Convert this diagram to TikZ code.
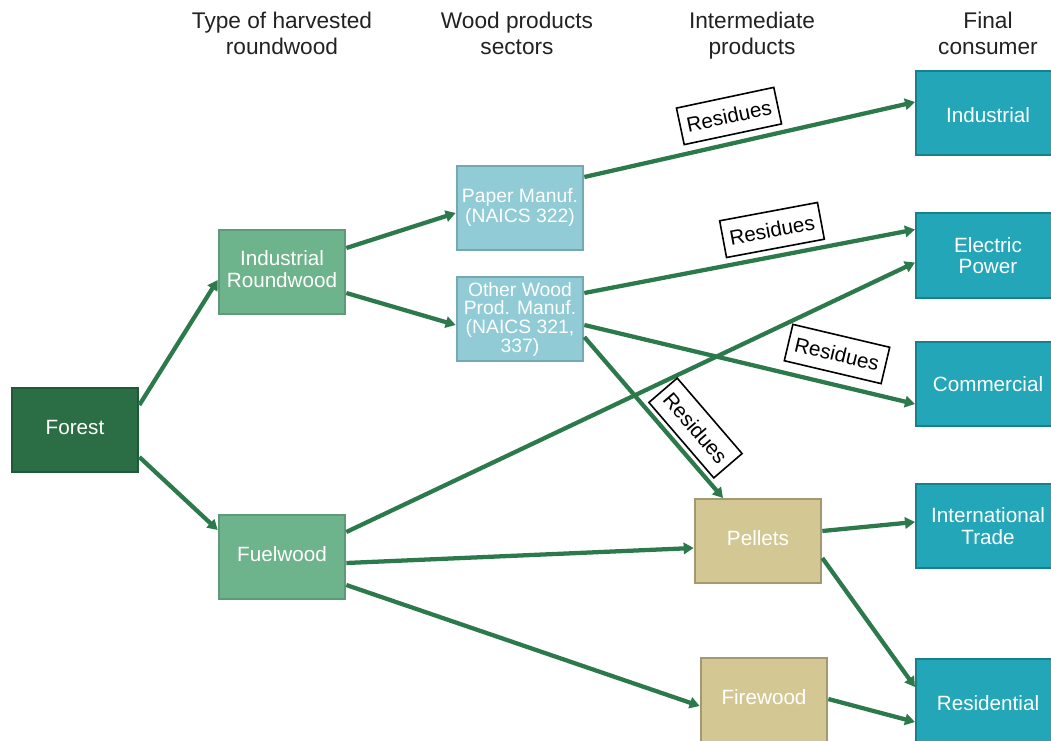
\documentclass[tikz,border=0pt]{standalone}
\usepackage{fontspec}
\setmainfont{Liberation Sans}
\usetikzlibrary{calc,arrows.meta}
\definecolor{forestfill}{HTML}{2B6E46}
\definecolor{forestdraw}{HTML}{1E5A36}
\definecolor{lgfill}{HTML}{6DB38B}
\definecolor{lgdraw}{HTML}{5E9979}
\definecolor{lbfill}{HTML}{90CBD6}
\definecolor{lbdraw}{HTML}{74A8B2}
\definecolor{tanfill}{HTML}{D3C794}
\definecolor{tandraw}{HTML}{A39870}
\definecolor{tealfill}{HTML}{22A6B8}
\definecolor{tealdraw}{HTML}{17808F}
\definecolor{arrowc}{HTML}{2C7A4C}
\definecolor{headc}{HTML}{222222}
\newcommand\lowr{\rule[-4.5pt]{0pt}{0pt}}
\tikzset{
  box/.style={rectangle, line width=1.5pt, minimum width=95pt, minimum height=63pt,
    inner sep=0pt, align=center, text=white, font=\fontsize{15.5}{16}\selectfont},
  forestbox/.style={box, fill=forestfill, draw=forestdraw},
  roundbox/.style={box, fill=lgfill, draw=lgdraw},
  sectorbox/.style={box, fill=lbfill, draw=lbdraw, font=\fontsize{14.5}{15}\selectfont},
  interbox/.style={box, fill=tanfill, draw=tandraw},
  consbox/.style={box, fill=tealfill, draw=tealdraw, minimum width=108pt, minimum height=63.5pt},
  head/.style={align=center, text=headc, font=\fontsize{17}{19.5}\selectfont, inner sep=0pt},
  flow/.style={draw=arrowc, line width=3.2pt, -{Triangle[length=7.5pt,width=8.5pt]}},
  resid/.style={draw=black, fill=white, line width=1.2pt, inner xsep=5pt, minimum height=28pt,
    text=black, font=\fontsize{15.5}{16}\selectfont}
}
\begin{document}
\begin{tikzpicture}[x=0.75pt,y=-0.75pt]
\useasboundingbox (0,0) rectangle (1051,740);
\clip (0,0) rectangle (1051,740);
\fill[white] (0,0) rectangle (1051,740);

% headers
\node[head] (h1) at (282,36) {Type of harvested\strut\\roundwood\strut};
\node[head] (h2) at (517,36) {Wood products\strut\\sectors\strut};
\node[head] (h3) at (752,36) {Intermediate\strut\\products\strut};
\node[head] (h4) at (988,36) {Final\strut\\consumer\strut};

% nodes
\node[forestbox] (forest) at (75,430) {Forest\lowr};
\node[roundbox] (indr) at (282,272) {Industrial\\Roundwood\lowr};
\node[roundbox] (fuel) at (282,557) {Fuelwood\lowr};
\node[sectorbox] (paper) at (520,208) {Paper Manuf.\\(NAICS 322)};
\node[sectorbox, font=\fontsize{14.5}{14}\selectfont] (other) at (520,319) {Other Wood\\Prod. Manuf.\\(NAICS 321,\\337)};
\node[interbox] (pellets) at (758,541) {Pellets\lowr};
\node[interbox] (firewood) at (764,700) {Firewood\lowr};
\node[consbox] (industrial) at (988,113) {Industrial\rule{0pt}{14pt}};
\node[consbox] (electric) at (988,255.5) {Electric\\Power};
\node[consbox] (commercial) at (988,384) {Commercial};
\node[consbox] (intl) at (988,526) {International\\Trade};
\node[consbox] (resid) at (988,701) {Residential\rule{0pt}{14pt}};

% connectors
\draw[flow] ($(forest.east)+(0,-25)$) -- ($(indr.west)+(0,8)$);
\draw[flow] ($(forest.east)+(0,27)$) -- ($(fuel.west)+(0,-27)$);
\draw[flow] ($(indr.east)+(0,-24)$) -- ($(paper.west)+(0,5)$);
\draw[flow] ($(indr.east)+(0,21)$) -- ($(other.west)+(0,6)$);
\draw[flow] ($(paper.east)+(0,-31)$) -- ($(industrial.west)+(0,-11)$);
\draw[flow] ($(other.east)+(0,-26)$) -- ($(electric.west)+(0,-26)$);
\draw[flow] ($(other.east)+(0,6)$) -- ($(commercial.west)+(0,20)$);
\draw[flow] ($(other.east)+(0,18)$) -- ($(pellets.north)+(-35,0)$);
\draw[flow] ($(fuel.east)+(0,-25)$) -- ($(electric.west)+(0,7)$);
\draw[flow] ($(fuel.east)+(0,6)$) -- ($(pellets.west)+(0,7)$);
\draw[flow] ($(fuel.east)+(0,28)$) -- ($(firewood.west)+(0,6)$);
\draw[flow] ($(pellets.east)+(0,-10)$) -- ($(intl.west)+(0,-4)$);
\draw[flow] ($(pellets.east)+(0,17)$) -- ($(resid.west)+(0,-14)$);
\draw[flow] ($(firewood.east)+(0,-1)$) -- ($(resid.west)+(0,21)$);

% residue labels
\node[resid, rotate=12] (r1) at (729,116) {Residues};
\node[resid, rotate=10.6] (r2) at (772,230) {Residues};
\node[resid, rotate=-13.3] (r3) at (837,354) {Residues};
\node[resid, rotate=-49.3] (r4) at (695.5,428) {Residues};
\end{tikzpicture}
\end{document}
